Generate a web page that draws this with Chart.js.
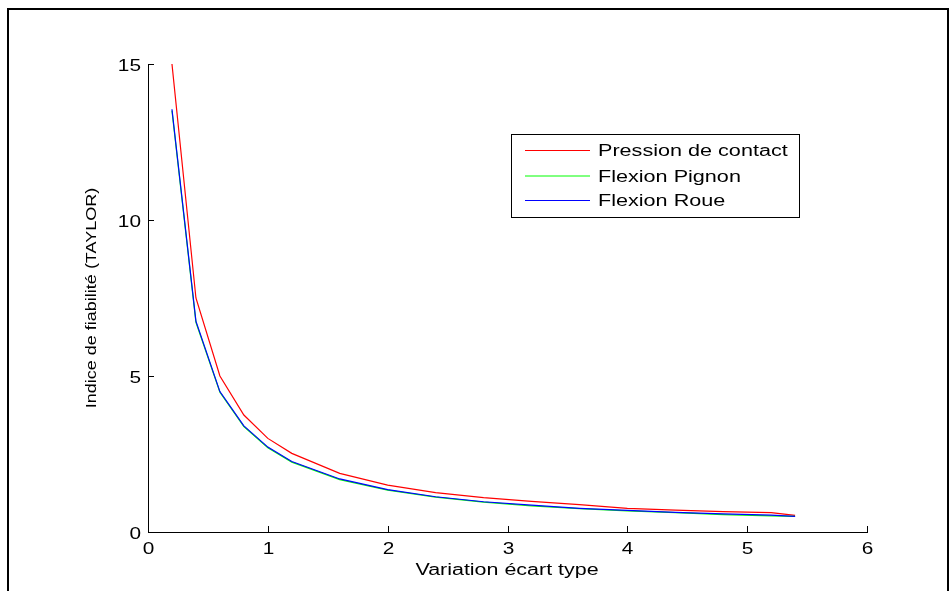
<!DOCTYPE html>
<html>
<head>
<meta charset="utf-8">
<script src="https://cdn.jsdelivr.net/npm/chart.js@4.4.0/dist/chart.umd.min.js"></script>
<style>
  body { margin: 0; background: #fff; }
  #frame { position: absolute; left: 7px; top: 8px; width: 938px; height: 600px; border: 2px solid #000; }
  #c { position: absolute; left: 0; top: 0; }
</style>
</head>
<body>
<div id="frame"></div>
<canvas id="c" width="951" height="591"></canvas>
<script>
// values
const ecartType = [0.2, 0.4, 0.6, 0.8, 1.0, 1.2, 1.6, 2.0, 2.4, 2.8, 3.2, 3.6, 4.0, 4.4, 4.8, 5.2, 5.4];
const pressionContact = [15.0, 7.5, 5.0, 3.75, 3.0, 2.52, 1.88, 1.5, 1.26, 1.1, 0.98, 0.88, 0.76, 0.7, 0.65, 0.62, 0.53];
const flexionPignon = [13.5, 6.72, 4.48, 3.38, 2.7, 2.24, 1.68, 1.34, 1.12, 0.96, 0.84, 0.75, 0.68, 0.62, 0.56, 0.52, 0.5];
const flexionRoue = [13.55, 6.76, 4.5, 3.4, 2.72, 2.26, 1.7, 1.36, 1.13, 0.97, 0.86, 0.76, 0.69, 0.63, 0.58, 0.54, 0.5];
const xLabel = "Variation écart type";
const yLabel = "Indice de fiabilité (TAYLOR)";

const FONT = '"Liberation Sans", Arial, sans-serif';

function pts(ys) {
  return ecartType.map((x, i) => ({ x: x, y: ys[i] }));
}

// text in the reference is drawn wider than a normal Arial
function wide(ctx, txt, x, y, align, sx, size, rot) {
  ctx.save();
  ctx.translate(x, y);
  if (rot) ctx.rotate(rot);
  ctx.scale(sx, 1);
  ctx.font = size + "px " + FONT;
  ctx.fillStyle = "#000";
  ctx.textAlign = align;
  ctx.textBaseline = "alphabetic";
  ctx.fillText(txt, 0, 0);
  ctx.restore();
}

const matlabAxes = {
  id: "matlabAxes",
  afterDraw(chart) {
    const ctx = chart.ctx;
    const xs = chart.scales.x, ys = chart.scales.y;
    const area = chart.chartArea;
    ctx.save();
    ctx.strokeStyle = "#000";
    ctx.lineWidth = 1;
    // inward ticks + labels
    xs.ticks.forEach(t => {
      const px = Math.round(xs.getPixelForValue(t.value)) + 0.5;
      ctx.beginPath();
      ctx.moveTo(px, area.bottom);
      ctx.lineTo(px, area.bottom - 6);
      ctx.stroke();
      wide(ctx, String(t.value), px, 554, "center", 1.3, 16);
    });
    ys.ticks.forEach(t => {
      const py = Math.round(ys.getPixelForValue(t.value)) + 0.5;
      ctx.beginPath();
      ctx.moveTo(area.left, py);
      ctx.lineTo(area.left + 6, py);
      ctx.stroke();
      wide(ctx, String(t.value), 141, py + 6, "right", 1.3, 16);
    });
    // axis titles
    wide(ctx, xLabel, 507, 575, "center", 1.34, 16);
    wide(ctx, yLabel, 96, 298, "center", 1.2, 15, -Math.PI / 2);

    // legend box
    ctx.fillStyle = "#fff";
    ctx.fillRect(511, 134, 288, 83);
    ctx.strokeStyle = "#000";
    ctx.strokeRect(511.5, 134.5, 288, 83);
    const rows = [150, 175.5, 200];
    chart.data.datasets.forEach((ds, i) => {
      ctx.strokeStyle = ds.borderColor;
      ctx.lineWidth = 1;
      ctx.beginPath();
      ctx.moveTo(525, rows[i] + 0.5);
      ctx.lineTo(590, rows[i] + 0.5);
      ctx.stroke();
      wide(ctx, ds.label, 598, rows[i] + 6, "left", 1.35, 16);
    });
    ctx.restore();
  }
};

new Chart(document.getElementById("c"), {
  type: "line",
  data: {
    datasets: [
      // later series sit on top, like the original plot
      { label: "Pression de contact", data: pts(pressionContact), borderColor: "#ff0000", order: 3 },
      { label: "Flexion Pignon", data: pts(flexionPignon), borderColor: "#00ff00", order: 2 },
      { label: "Flexion Roue", data: pts(flexionRoue), borderColor: "#0000ff", order: 1 }
    ]
  },
  options: {
    responsive: false,
    animation: false,
    clip: false,
    layout: { padding: { left: 148, top: 64, right: 84, bottom: 59 } },
    elements: {
      line: { borderWidth: 1.2, tension: 0, fill: false },
      point: { radius: 0 }
    },
    plugins: { legend: { display: false }, tooltip: { enabled: false } },
    scales: {
      x: {
        type: "linear", min: 0, max: 6,
        ticks: { display: false, stepSize: 1 },
        grid: { display: true, drawOnChartArea: false, drawTicks: false },
        border: { color: "#000", width: 1 },
        afterFit: s => { s.height = 0; }
      },
      y: {
        type: "linear", min: 0, max: 15,
        ticks: { display: false, stepSize: 5 },
        grid: { display: true, drawOnChartArea: false, drawTicks: false },
        border: { color: "#000", width: 1 },
        afterFit: s => { s.width = 0; }
      }
    }
  },
  plugins: [matlabAxes]
});
</script>
</body>
</html>
